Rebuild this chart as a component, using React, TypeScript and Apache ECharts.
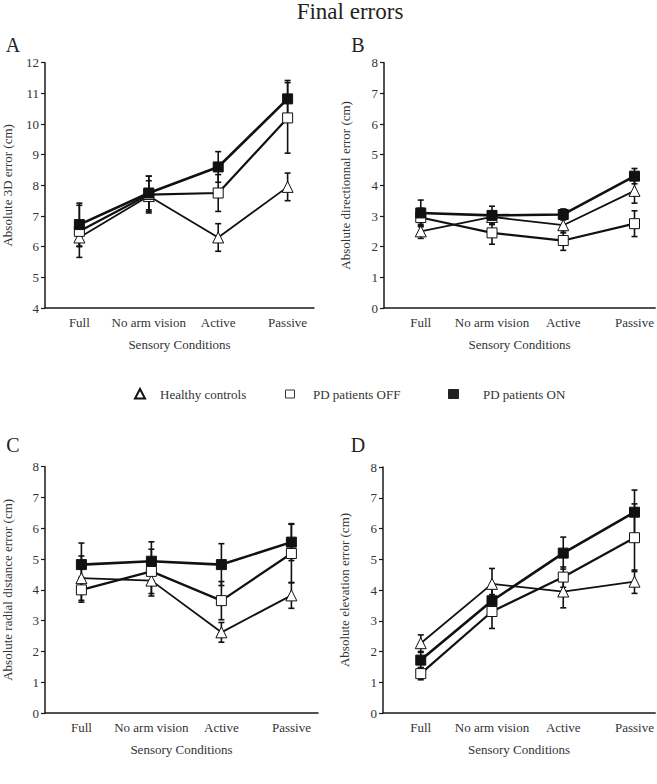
import React, { useEffect, useRef } from "react";
import * as echarts from "echarts";

const categories = ["Full", "No arm vision", "Active", "Passive"];
const seriesNames = ["Healthy controls", "PD patients OFF", "PD patients ON"];

// Panel A: Absolute 3D error (cm)
const aHealthy = [6.3, 7.65, 6.3, 7.95];
const aHealthyErr = [0.3, 0.5, 0.45, 0.45];
const aOff = [6.5, 7.7, 7.75, 10.2];
const aOffErr = [0.85, 0.6, 0.6, 1.15];
const aOn = [6.72, 7.75, 8.6, 10.82];
const aOnErr = [0.7, 0.55, 0.5, 0.6];

// Panel B: Absolute directionnal error (cm)
const bHealthy = [2.5, 2.97, 2.7, 3.82];
const bHealthyErr = [0.23, 0.2, 0.25, 0.4];
const bOff = [2.95, 2.45, 2.2, 2.75];
const bOffErr = [0.3, 0.37, 0.32, 0.42];
const bOn = [3.1, 3.02, 3.05, 4.3];
const bOnErr = [0.42, 0.3, 0.18, 0.25];

// Panel C: Absolute radial distance error (cm)
const cHealthy = [4.38, 4.3, 2.62, 3.82];
const cHealthyErr = [0.72, 0.5, 0.32, 0.42];
const cOff = [4.0, 4.6, 3.65, 5.18];
const cOffErr = [0.4, 0.72, 0.62, 0.95];
const cOn = [4.82, 4.93, 4.82, 5.55];
const cOnErr = [0.7, 0.63, 0.68, 0.6];

// Panel D: Absolute elevation error (cm)
const dHealthy = [2.27, 4.2, 3.95, 4.27];
const dHealthyErr = [0.27, 0.5, 0.53, 0.38];
const dOff = [1.28, 3.3, 4.42, 5.7];
const dOffErr = [0.2, 0.55, 0.33, 1.1];
const dOn = [1.72, 3.65, 5.2, 6.53];
const dOnErr = [0.25, 0.4, 0.52, 0.72];

const yTitles = [
  "Absolute 3D error (cm)",
  "Absolute directionnal error (cm)",
  "Absolute radial distance error (cm)",
  "Absolute elevation error (cm)",
];
const xTitle = "Sensory Conditions";
const panelLetters = ["A", "B", "C", "D"];
const yMins = [4, 0, 0, 0];
const yMaxs = [12, 8, 8, 8];

const panels = [
  { healthy: [aHealthy, aHealthyErr], off: [aOff, aOffErr], on: [aOn, aOnErr] },
  { healthy: [bHealthy, bHealthyErr], off: [bOff, bOffErr], on: [bOn, bOnErr] },
  { healthy: [cHealthy, cHealthyErr], off: [cOff, cOffErr], on: [cOn, cOnErr] },
  { healthy: [dHealthy, dHealthyErr], off: [dOff, dOffErr], on: [dOn, dOnErr] },
];

// layout (pixels)
const layouts = [
  { left: 40, top: 62.7, width: 274, height: 245.3, xmin: -0.495, xmax: 3.38, nameGap: 31, letter: [13, 45] },
  { left: 384, top: 62.7, width: 273, height: 245.3, xmin: -0.516, xmax: 3.29, nameGap: 32, letter: [358, 45] },
  { left: 40, top: 466.7, width: 278, height: 246.3, xmin: -0.52, xmax: 3.38, nameGap: 31, letter: [13, 445] },
  { left: 383, top: 467, width: 274, height: 246, xmin: -0.53, xmax: 3.29, nameGap: 32, letter: [358, 445] },
];

const FONT = "'Times New Roman', 'Liberation Serif', Times, serif";
const TEXT = "#333";
const AXIS = "#1a1a1a";

export default function App() {
  const ref = useRef<HTMLDivElement>(null);
  useEffect(() => {
    document.body.style.margin = "0";
    if (!ref.current) return;
    const chart = echarts.init(ref.current, undefined, { renderer: "svg" });

    const grid: any[] = [];
    const xAxis: any[] = [];
    const yAxis: any[] = [];
    const series: any[] = [];

    const styles = [
      { key: "healthy", name: seriesNames[0], symbol: "triangle", size: 11, fill: "#fff", width: 1.8 },
      { key: "off", name: seriesNames[1], symbol: "rect", size: 10, fill: "#fff", width: 2.2 },
      { key: "on", name: seriesNames[2], symbol: "rect", size: 10, fill: "#111", width: 2.6 },
    ];

    layouts.forEach((L, p) => {
      grid.push({ left: L.left, top: L.top, width: L.width, height: L.height });
      xAxis.push({
        type: "value",
        gridIndex: p,
        min: L.xmin,
        max: L.xmax,
        name: xTitle,
        nameLocation: "middle",
        nameGap: 30,
        nameTextStyle: { fontFamily: FONT, fontSize: 13, color: TEXT },
        axisLine: { show: true, onZero: false, lineStyle: { color: AXIS, width: 1.5 } },
        axisTick: { show: false },
        splitLine: { show: false },
        axisLabel: {
          customValues: [0, 1, 2, 3],
          formatter: (v: number) => categories[Math.round(v)] ?? "",
          fontFamily: FONT,
          fontSize: 13,
          color: TEXT,
          margin: 8,
        },
      });
      yAxis.push({
        type: "value",
        gridIndex: p,
        min: yMins[p],
        max: yMaxs[p],
        interval: 1,
        name: yTitles[p],
        nameLocation: "middle",
        nameGap: L.nameGap,
        nameRotate: 90,
        nameTextStyle: { fontFamily: FONT, fontSize: 13, color: TEXT },
        axisLine: { show: true, onZero: false, lineStyle: { color: AXIS, width: 1.5 } },
        axisTick: { show: true, length: 4, lineStyle: { color: AXIS, width: 1.2 } },
        splitLine: { show: false },
        axisLabel: { fontFamily: FONT, fontSize: 13, color: TEXT, margin: 6 },
      });

      const P: any = panels[p];
      styles.forEach((s) => {
        const [vals, errs] = P[s.key];
        series.push({
          type: "custom",
          name: s.name + " err",
          xAxisIndex: p,
          yAxisIndex: p,
          z: 1,
          silent: true,
          data: vals.map((v: number, i: number) => [i, v, errs[i]]),
          encode: { x: 0, y: 1 },
          renderItem: (params: any, api: any) => {
            const x = api.value(0);
            const y = api.value(1);
            const e = api.value(2);
            const t = api.coord([x, y + e]);
            const b = api.coord([x, y - e]);
            const hw = 3;
            const st = { stroke: "#111", lineWidth: 1.6 };
            return {
              type: "group",
              children: [
                { type: "line", shape: { x1: t[0], y1: t[1], x2: b[0], y2: b[1] }, style: st },
                { type: "line", shape: { x1: t[0] - hw, y1: t[1], x2: t[0] + hw, y2: t[1] }, style: st },
                { type: "line", shape: { x1: b[0] - hw, y1: b[1], x2: b[0] + hw, y2: b[1] }, style: st },
              ],
            };
          },
        });
        series.push({
          type: "line",
          name: s.name,
          xAxisIndex: p,
          yAxisIndex: p,
          z: 3,
          data: vals.map((v: number, i: number) => [i, v]),
          symbol: s.symbol,
          symbolSize: s.size,
          showAllSymbol: true,
          lineStyle: { color: "#111", width: s.width },
          itemStyle: { color: s.fill, borderColor: "#111", borderWidth: 1 },
        });
      });
    });

    const graphic: any[] = [
      {
        type: "text",
        x: 350,
        y: 0,
        style: {
          text: "Final errors",
          fontFamily: FONT,
          fontSize: 23,
          fill: "#222",
          align: "center",
          verticalAlign: "top",
        },
      },
    ];
    layouts.forEach((L, p) => {
      graphic.push({
        type: "text",
        x: L.letter[0],
        y: L.letter[1],
        style: {
          text: panelLetters[p],
          fontFamily: FONT,
          fontSize: 20,
          fill: "#222",
          align: "center",
          verticalAlign: "middle",
        },
      });
    });
    // legend
    const ly = 394;
    graphic.push(
      {
        type: "polygon",
        shape: { points: [[140, ly - 5], [135, ly + 4.5], [145, ly + 4.5]] },
        style: { fill: "#fff", stroke: "#111", lineWidth: 2 },
      },
      {
        type: "text",
        x: 160,
        y: ly,
        style: { text: seriesNames[0], fontFamily: FONT, fontSize: 13, fill: TEXT, verticalAlign: "middle" },
      },
      {
        type: "rect",
        shape: { x: 285.5, y: ly - 4, width: 9, height: 8 },
        style: { fill: "#fff", stroke: "#333", lineWidth: 1 },
      },
      {
        type: "text",
        x: 313,
        y: ly,
        style: { text: seriesNames[1], fontFamily: FONT, fontSize: 13, fill: TEXT, verticalAlign: "middle" },
      },
      {
        type: "rect",
        shape: { x: 448.5, y: ly - 4.5, width: 10, height: 9 },
        style: { fill: "#222", stroke: "#222", lineWidth: 1 },
      },
      {
        type: "text",
        x: 483,
        y: ly,
        style: { text: seriesNames[2], fontFamily: FONT, fontSize: 13, fill: TEXT, verticalAlign: "middle" },
      }
    );

    chart.setOption({
      animation: false,
      backgroundColor: "#fff",
      textStyle: { fontFamily: FONT },
      grid,
      xAxis,
      yAxis,
      series,
      graphic,
    });
    return () => chart.dispose();
  }, []);
  return <div ref={ref} style={{ width: 657, height: 784 }} />;
}
